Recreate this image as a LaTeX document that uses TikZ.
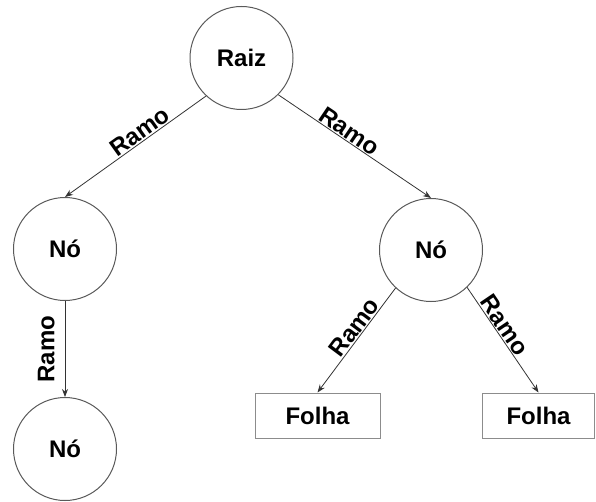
\documentclass[tikz,border=0pt]{standalone}
\usepackage{fontspec}
\setmainfont{Liberation Sans}
\usetikzlibrary{arrows.meta}

\begin{document}
\begin{tikzpicture}[x=1pt,y=-1pt,
  circulo/.style={circle,draw=black!65,line width=1pt,minimum size=103pt,inner sep=0pt,font=\fontsize{24}{28}\selectfont\bfseries},
  folha/.style={rectangle,draw=black!45,line width=1pt,minimum height=45pt,inner sep=0pt,font=\fontsize{24}{28}\selectfont\bfseries},
  ramo/.style={draw=black!80,line width=0.8pt,-{Stealth[length=8pt,width=6pt]}},
  rotulo/.style={font=\fontsize{24}{28}\selectfont\bfseries,inner sep=1pt}]

\useasboundingbox (0,0) rectangle (596,502);

% Nos da arvore
\node[circulo] (raiz) at (241.5,58) {Raiz};
\node[circulo] (noesq) at (65,249) {Nó};
\node[circulo] (nodir) at (431,250) {Nó};
\node[circulo] (nobaixo) at (65,449) {Nó};

% Folhas
\node[folha,minimum width=125pt] (folhaesq) at (317.5,415.5) {Folha};
\node[folha,minimum width=112pt] (folhadir) at (538.5,415.5) {Folha};

% Ramos
\draw[ramo] (raiz.-133) -- (noesq.north) node[rotulo,pos=0.43,above,sloped] {Ramo};
\draw[ramo] (raiz.-45) -- (nodir.north) node[rotulo,pos=0.43,above,sloped] {Ramo};
\draw[ramo] (nodir.-133) -- (folhaesq.north) node[rotulo,pos=0.43,above,sloped] {Ramo};
\draw[ramo] (nodir.-46) -- (folhadir.north) node[rotulo,pos=0.41,above,sloped] {Ramo};
\draw[ramo] (noesq.south) -- (nobaixo.north) node[rotulo,midway,rotate=90,anchor=south,inner sep=10pt] {Ramo};

\end{tikzpicture}
\end{document}
